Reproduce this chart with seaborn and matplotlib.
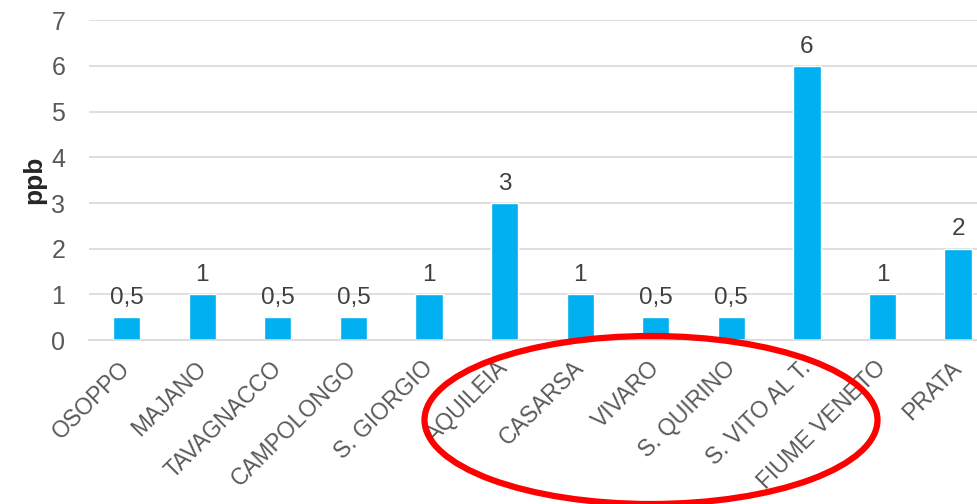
import matplotlib.pyplot as plt
import matplotlib.transforms as mtransforms
import seaborn as sns
import pandas as pd
from matplotlib.patches import Ellipse

# data
stations = ["OSOPPO", "MAJANO", "TAVAGNACCO", "CAMPOLONGO", "S. GIORGIO", "AQUILEIA",
            "CASARSA", "VIVARO", "S. QUIRINO", "S. VITO AL T.", "FIUME VENETO", "PRATA"]
values = [0.5, 1, 0.5, 0.5, 1, 3, 1, 0.5, 0.5, 6, 1, 2]
yticks = [0, 1, 2, 3, 4, 5, 6, 7]

df = pd.DataFrame({"station": stations, "ppb": values})

sns.set_theme(style="white")
plt.rcParams["font.family"] = ["Liberation Sans", "DejaVu Sans"]

fig = plt.figure(figsize=(9.77, 5.04), dpi=100)
ax = fig.add_axes([0.091, 0.325, 0.909, 0.635])

sns.barplot(data=df, x="station", y="ppb", color="#00B0F0", saturation=1,
            width=0.36, ax=ax)

ax.set_ylim(0, 7)
ax.set_xlim(-0.5, 11.25)
ax.set_yticks(yticks)
ax.yaxis.grid(True, color="#D9D9D9", linewidth=1.2)
ax.set_axisbelow(True)
for s in ["top", "right", "left"]:
    ax.spines[s].set_visible(False)
ax.spines["bottom"].set_color("#D9D9D9")
ax.spines["bottom"].set_linewidth(1.2)

ax.tick_params(axis="y", labelsize=18, colors="#595959", length=0, pad=17)
ax.tick_params(axis="x", labelsize=16.5, colors="#595959", length=0, pad=6)
# shift the rotated labels a little left/down like the original
shift = mtransforms.ScaledTranslation(-8 / 100, -8 / 100, fig.dpi_scale_trans)
for lbl in ax.get_xticklabels():
    lbl.set_rotation(45)
    lbl.set_ha("right")
    lbl.set_rotation_mode("anchor")
    lbl.set_transform(lbl.get_transform() + shift)

ax.set_xlabel("")
ax.set_ylabel("ppb", fontsize=19, color="#262626", fontweight="bold", labelpad=4)

for i, v in enumerate(values):
    txt = f"{v:g}".replace(".", ",")
    ax.annotate(txt, (i, v), xytext=(0, 6), textcoords="offset points",
                ha="center", va="bottom", fontsize=17.5, color="#404040")

# red ellipse drawn over the figure
ell = Ellipse((651 / 977, 1 - 420 / 504), 453 / 977, 168 / 504,
              transform=fig.transFigure, fill=False, edgecolor="#FF0000",
              linewidth=4.5, clip_on=False)
fig.patches.append(ell)

fig.savefig("out.png", dpi=100)
